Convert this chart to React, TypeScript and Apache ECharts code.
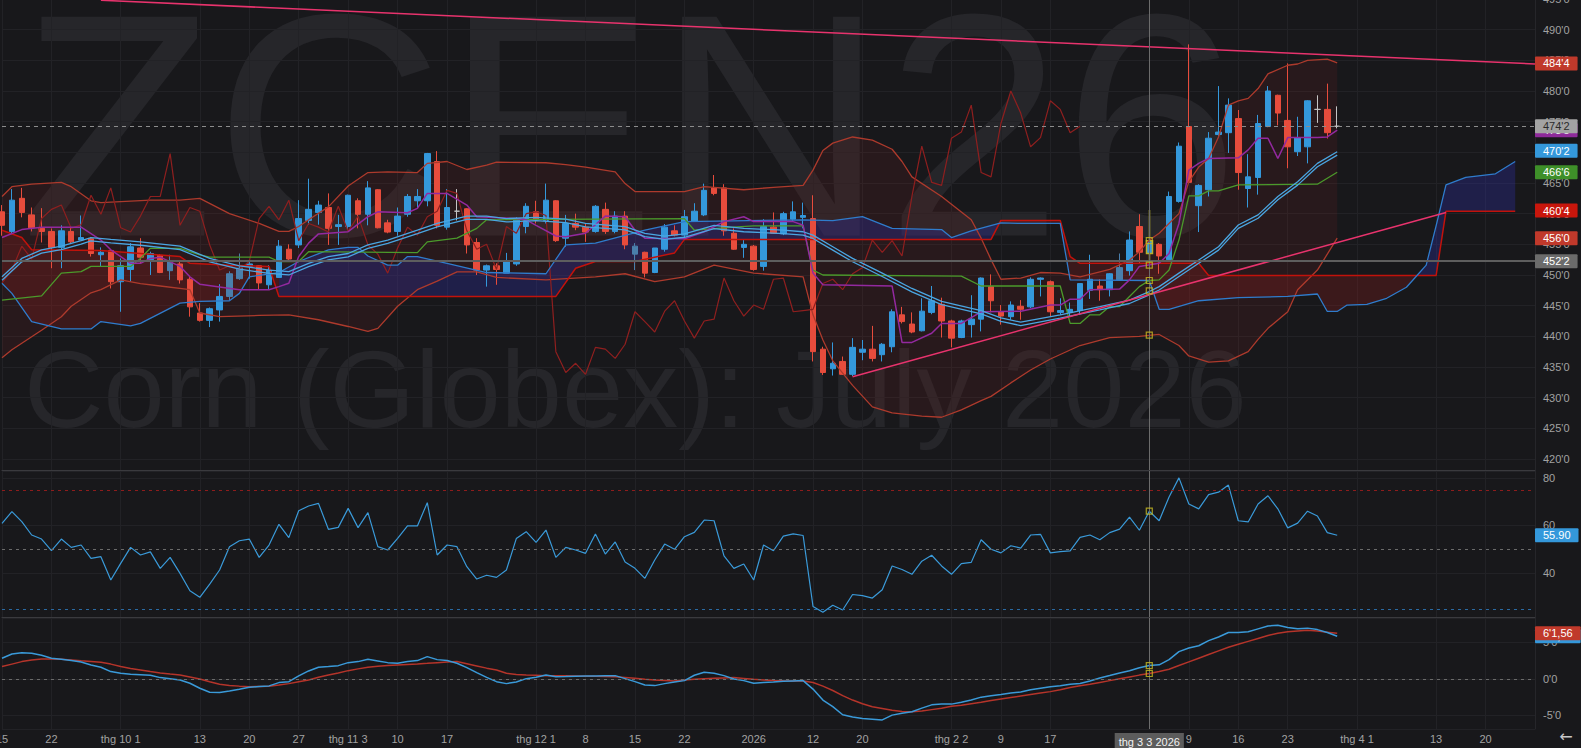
import React, { useEffect, useRef } from 'react';
import * as echarts from 'echarts';

// ---------- calendar ----------
const HOLIDAYS = ['2025-11-27', '2025-12-25', '2026-01-01', '2026-01-19', '2026-02-16'];
function buildDates(): string[] {
  const out: string[] = [];
  const d = new Date(Date.UTC(2025, 8, 15));
  const end = Date.UTC(2026, 3, 27);
  while (d.getTime() <= end) {
    const wd = d.getUTCDay();
    const s = d.toISOString().slice(0, 10);
    if (wd !== 0 && wd !== 6 && HOLIDAYS.indexOf(s) < 0) out.push(s);
    d.setUTCDate(d.getUTCDate() + 1);
  }
  return out;
}
const dates = buildDates();

const xLabelDates = ['2025-09-15', '2025-09-22', '2025-10-01', '2025-10-13', '2025-10-20', '2025-10-27', '2025-11-03', '2025-11-10', '2025-11-17', '2025-12-01', '2025-12-08', '2025-12-15', '2025-12-22', '2026-01-02', '2026-01-12', '2026-01-20', '2026-02-02', '2026-02-09', '2026-02-17', '2026-03-03', '2026-03-09', '2026-03-16', '2026-03-23', '2026-04-01', '2026-04-13', '2026-04-20'];
const xLabelTexts = ['15', '22', 'thg 10 1', '13', '20', '27', 'thg 11 3', '10', '17', 'thg 12 1', '8', '15', '22', '2026', '12', '20', 'thg 2 2', '9', '17', 'thg 3 3 2026', '9', '16', '23', 'thg 4 1', '13', '20'];
const CROSS_DATE = '2026-03-03';

// ---------- candles ----------
const opens = [460.3,457.1,462.5,459.8,457.6,457.1,454.5,457.1,455.7,455.9, 453.3,454.0,448.9,450.9,454.4,452.5,453.2,450.7,451.8,449.3, 443.8,442.6,444.3,446.5,449.4,451.4,451.5,448.4,449.6,454.2, 454.9,458.9,460.2,461.0,457.9,457.9,462.1,459.9,463.9,458.5, 457.1,459.9,462.1,462.1,468.5,457.8,460.4,460.8,455.3,450.8, 451.5,450.3,451.8,457.9,460.3,458.9,462.1,456.0,458.4,457.8, 457.1,460.7,457.1,459.6,454.7,453.7,450.4,454.2,457.2,456.5, 458.8,459.8,464.2,464.2,456.8,454.5,454.7,451.4,457.8,456.7, 459.1,459.4,459.2,437.9,434.7,435.9,433.8,437.4,437.9,437.0, 438.3,443.5,442.0,440.9,443.9,445.2,442.5,439.8,441.9,442.8, 448.1,444.0,443.2,444.9,444.8,449.3,448.9,443.9,443.9,444.2, 447.5,448.2,447.6,449.2,450.7,457.9,453.5,455.0,452.5,462.0, 474.2,461.3,463.9,472.9,473.2,475.5,464.1,465.9,474.2,479.3, 475.2,470.1,470.9,477.0,477.0,474.25];
const closes = [458.1,462.2,460.2,457.7,457.1,454.5,457.2,455.4,456.1,453.5, 453.7,448.9,451.5,454.6,452.9,453.5,450.4,452.2,449.2,444.8, 442.6,444.5,446.5,450.2,451.1,451.8,448.7,450.8,454.7,452.6, 459.2,460.7,461.4,457.6,458.2,463.0,459.9,464.2,457.7,457.0, 459.6,462.8,462.8,469.8,458.1,461.0,460.4,454.9,450.8,451.5, 450.9,452.2,459.2,461.2,459.0,462.2,455.6,458.4,457.8,457.0, 461.2,457.1,459.6,454.9,453.4,450.3,454.4,457.8,456.5,459.5, 460.4,463.8,463.3,457.2,454.2,455.0,450.9,457.9,456.8,460.0, 460.3,459.7,437.5,434.1,435.6,433.8,438.2,437.9,436.4,438.7, 444.0,442.4,440.7,444.1,445.8,442.5,439.7,442.5,442.8,449.5, 445.8,443.3,445.1,444.4,449.3,449.5,444.0,444.2,444.4,448.6, 449.3,447.6,450.2,451.2,455.7,453.7,455.6,453.1,462.8,471.0, 465.1,464.6,472.3,473.3,477.7,466.7,466.0,474.7,480.0,476.4, 470.9,472.4,478.4,477.0,473.2,474.25];
const lows = [456.4,456.8,459.4,457.1,455.3,451.1,451.1,455.2,455.7,453.0, 451.4,447.8,444.0,448.9,451.9,450.0,450.3,449.2,448.6,443.2, 442.4,441.5,442.4,445.9,449.2,449.4,447.6,447.6,449.5,452.2, 454.4,458.2,458.2,454.9,454.9,457.3,457.6,458.1,457.6,456.8, 456.4,459.5,460.9,461.2,457.6,457.4,458.9,453.5,450.0,448.1, 448.4,450.3,451.5,456.8,458.4,458.4,455.4,454.6,457.3,455.4, 456.9,456.7,456.8,454.2,450.8,449.6,450.3,453.8,456.3,455.7, 458.7,459.6,463.0,456.4,454.1,452.8,450.7,450.7,456.7,456.5, 458.8,457.6,435.9,433.7,433.6,433.7,433.5,436.1,435.9,435.9, 437.4,442.1,440.5,440.8,443.6,439.8,438.2,439.7,439.8,440.8, 443.9,441.9,442.7,442.7,444.6,446.5,443.2,443.5,443.3,443.5, 446.1,445.8,446.5,449.1,449.9,451.9,451.9,450.2,452.4,461.8, 464.9,457.0,462.8,472.6,469.9,463.9,461.0,463.1,474.1,474.4, 467.4,469.4,468.2,474.8,472.25,473.9];
const highs = [461.4,464.0,464.2,461.0,460.9,457.6,458.1,457.9,459.7,456.2, 454.5,454.1,452.7,455.2,456.0,453.8,453.4,453.3,452.2,449.7, 445.4,444.7,448.5,450.6,453.5,452.2,451.6,451.6,455.7,455.0, 462.2,465.7,462.1,463.3,459.8,463.1,462.5,465.3,464.0,459.0, 461.0,463.2,464.0,469.9,470.2,464.0,464.0,460.9,456.0,451.7, 451.9,453.6,459.4,461.7,462.1,464.9,462.2,459.8,460.0,458.4, 461.4,461.8,460.4,460.4,455.2,453.8,454.4,458.3,458.1,460.6, 461.7,464.9,466.3,464.8,457.6,455.7,454.9,459.1,460.2,460.3, 462.0,461.8,463.0,438.3,439.0,436.7,439.7,439.4,441.7,438.9, 444.4,444.8,443.9,446.2,448.2,446.3,442.7,442.7,446.7,449.6, 450.1,445.1,445.7,445.9,449.6,449.6,449.1,446.2,445.5,448.6, 453.3,449.3,450.3,453.5,457.1,459.9,460.6,455.2,463.6,471.6, 487.6,464.8,473.3,480.8,478.8,476.9,469.7,476.1,480.8,479.4, 484.5,475.8,478.5,479.3,481.2,477.5];
const mutedCandles = [17, 23, 24, 64, 113];
const CROSS_INDEX = 116;

// ---------- overlays: [categoryIndex, value] ----------
const bbUpper = [[0,462.8],[1,464.4],[3,464.8],[6,465.1],[7,464.4],[9,462.1],[10,461.8],[15,462.2],[18,462.2],[20,462.5],[23,460.0],[26,458.4],[28,457.1],[29,457.1],[30,457.9],[31,459.0],[33,461.1],[35,464.5],[37,466.7],[39,466.8],[42,466.7],[43,468.2],[45,468.5],[47,467.2],[49,467.9],[50,468.4],[55,468.3],[57,468.0],[59,467.6],[62,466.8],[63,464.9],[64,463.6],[69,463.6],[71,464.4],[75,463.9],[78,464.3],[81,464.6],[82,467.1],[83,470.3],[84,471.5],[86,472.5],[88,472.0],[90,470.5],[91,468.5],[92,466.0],[95,462.8],[98,459.0],[99,456.0],[100,452.5],[101,449.3],[103,449.5],[105,450.4],[107,450.3],[109,449.7],[112,450.9],[114,452.4],[115,453.8],[116,455.7],[117,456.8],[119,460.0],[120,465.2],[121,467.6],[122,469.0],[123,472.5],[124,477.7],[125,478.4],[126,478.8],[127,480.4],[128,482.8],[130,484.2],[131,484.4],[132,485.0],[134,485.2],[135,484.6]];
const bbLower = [[0,436.5],[1,437.8],[4,441.0],[6,443.2],[7,444.9],[9,447.1],[10,447.6],[12,449.2],[14,448.6],[16,448.2],[19,447.6],[20,443.8],[22,443.2],[26,443.4],[29,443.5],[32,442.7],[35,441.6],[37,440.8],[38,441.3],[40,444.9],[42,447.6],[44,449.0],[46,450.5],[48,450.5],[50,449.6],[55,449.2],[60,449.7],[63,450.2],[66,448.9],[69,449.7],[72,451.6],[76,450.3],[81,449.7],[82,443.5],[83,439.4],[84,436.0],[86,432.0],[88,428.5],[90,427.5],[93,427.0],[95,426.8],[97,428.0],[99,429.5],[100,430.2],[102,432.4],[104,434.5],[106,436.3],[109,438.5],[112,439.8],[115,440.0],[117,440.3],[119,438.5],[120,436.8],[122,435.8],[124,436.0],[126,437.5],[127,439.5],[128,441.3],[130,444.0],[131,447.6],[133,450.8],[135,456.0]];
const spanA = [[0,448.65],[1,447.0],[3,442.4],[6,441.2],[9,441.2],[10,442.4],[13,441.7],[14,442.1],[18,445.4],[20,445.7],[23,445.8],[24,447.0],[25,449.7],[28,450.4],[30,452.2],[33,454.1],[35,454.5],[36,454.5],[37,453.1],[39,451.6],[40,451.6],[41,453.0],[42,453.0],[45,451.9],[49,450.4],[55,450.2],[57,454.9],[60,455.2],[65,457.3],[69,458.7],[81,459.0],[84,458.85],[87,459.5],[90,457.6],[95,457.4],[96,456.1],[98,457.2],[101,458.5],[103,458.4],[107,458.4],[108,449.2],[116,449.1],[117,444.4],[118,444.4],[121,445.8],[125,446.3],[130,446.5],[133,446.9],[134,444.05],[135,444.05],[136,445.1],[138,445.2],[140,446.2],[142,448.0],[143,449.8],[144,451.6],[145,458.0],[146,464.7],[148,465.9],[151,466.5],[153,468.5]];
const spanB = [[0,457.3],[2,456.1],[3,454.1],[10,454.0],[18,453.0],[19,451.9],[23,451.6],[27,451.4],[28,446.5],[56,446.5],[58,451.1],[60,452.2],[64,452.2],[68,453.6],[69,455.8],[100,455.8],[101,458.9],[107,458.9],[108,453.0],[109,451.9],[121,451.9],[122,449.9],[143,449.9],[145,449.9],[146,460.4],[153,460.4]];
const tenkan = [[0,456.1],[2,457.4],[4,457.8],[8,457.8],[10,455.7],[11,454.1],[13,451.9],[14,451.9],[15,452.7],[16,452.9],[18,451.4],[19,449.7],[20,448.5],[24,447.6],[27,447.6],[28,448.1],[29,448.65],[30,453.0],[31,455.2],[32,456.7],[35,457.06],[37,459.5],[38,460.3],[41,460.15],[42,460.86],[43,463.3],[45,463.3],[47,461.4],[48,459.5],[52,459.2],[53,459.0],[54,458.1],[56,456.35],[57,456.25],[59,456.8],[61,459.6],[63,459.5],[64,457.3],[65,456.0],[69,455.9],[71,457.05],[73,458.7],[75,459.5],[76,458.7],[80,458.7],[81,458.1],[82,450.3],[83,448.4],[90,448.2],[91,439.0],[92,439.0],[94,440.5],[95,442.1],[97,442.1],[99,444.0],[103,444.1],[106,445.1],[107,445.1],[108,446.05],[109,446.05],[110,447.6],[113,447.7],[114,449.2],[115,451.4],[117,451.9],[118,453.5],[119,458.4],[120,467.1],[121,468.2],[122,469.0],[125,469.1],[126,470.4],[127,472.3],[128,472.3],[129,469.0],[130,472.4],[133,472.4],[134,472.5],[135,473.6]];
const kijun = [[0,445.9],[4,446.6],[6,450.3],[8,450.55],[9,451.4],[13,451.4],[14,452.7],[15,454.35],[18,454.35],[20,453.26],[21,452.9],[27,452.9],[28,452.2],[30,452.2],[31,453.8],[42,453.65],[43,455.4],[46,456.0],[48,457.6],[49,459.0],[69,459.2],[70,457.3],[74,457.8],[76,458.0],[81,458.0],[82,450.8],[83,450.0],[97,449.8],[99,448.2],[107,448.2],[108,442.1],[109,442.1],[110,443.5],[111,443.5],[112,444.85],[113,444.85],[114,446.5],[115,448.1],[116,449.1],[117,449.2],[118,450.8],[119,455.7],[120,462.9],[121,462.9],[122,463.7],[123,463.7],[125,464.7],[133,464.8],[135,466.75]];
const maLine = [[0,449.7],[2,452.7],[4,454.1],[6,454.7],[8,455.6],[9,456.1],[11,455.8],[14,455.4],[18,454.7],[21,452.7],[24,451.5],[27,450.8],[29,450.55],[31,451.9],[33,453.0],[35,453.5],[37,454.9],[39,455.7],[42,457.3],[44,458.4],[47,459.6],[49,459.6],[51,459.2],[54,459.4],[57,459.1],[59,458.4],[63,457.9],[65,456.8],[67,456.35],[69,456.7],[72,458.1],[75,457.6],[79,457.3],[81,457.05],[82,456.5],[84,454.6],[86,452.7],[89,450.3],[92,447.8],[95,445.7],[99,444.2],[101,443.0],[103,442.3],[107,443.5],[111,444.85],[114,445.9],[116,447.3],[117,448.1],[119,450.3],[121,452.45],[123,454.6],[125,458.15],[127,459.8],[129,462.8],[131,465.2],[133,468.2],[135,470.1]];
const trendDown = [[10,494.8],[155,484.4]];
const trendUp = [[86,433.4],[146,460.2]];
// crosshair markers read at 3 Mar 2026
const crossPriceMarks = [455.6, 451.6, 449.1, 447.4, 440.2];
const crossRsiMarks = [66.0];
const crossMacdMarks = [1.8, 0.72];

// ---------- RSI / MACD ----------
const rsi = [60.9,65.8,61.6,56.0,54.3,49.4,54.3,50.8,51.8,46.2, 46.9,37.1,44.1,50.8,47.6,48.9,42.0,46.6,39.9,32.6, 29.8,35.4,41.3,51.1,53.6,54.3,46.6,51.8,60.5,54.9, 66.2,68.2,69.3,58.4,59.2,67.2,59.1,65.4,51.1,49.7, 54.6,59.8,59.8,69.6,47.6,51.8,51.1,42.7,37.5,39.1, 38.2,41.3,54.5,57.4,52.9,58.1,46.6,50.8,49.7,48.3, 56.4,48.0,53.1,44.7,42.0,37.8,45.5,52.2,50.0,55.3, 57.1,62.3,62.0,47.2,42.0,43.8,37.1,51.8,49.4,55.5, 56.5,55.8,26.0,23.5,26.5,24.5,31.0,30.5,29.5,33.0, 43.0,41.5,39.5,45.0,47.5,43.0,39.5,44.0,44.5,54.0, 50.0,48.5,51.5,50.5,56.0,56.3,48.5,49.0,49.3,55.0, 56.0,54.0,57.0,58.5,63.5,58.0,66.0,62.0,72.0,80.0, 69.0,67.0,73.0,74.0,77.0,62.0,61.5,69.0,72.5,67.0, 59.0,61.0,66.0,64.0,57.0,55.9];
const macd = [2.79,3.38,3.56,3.47,3.2,2.79,2.66,2.48,2.29,1.88, 1.57,0.98,0.75,0.61,0.55,0.48,0.16,0.0,-0.16,-0.61, -1.29,-1.84,-1.88,-1.66,-1.43,-1.16,-1.05,-0.97,-0.52,-0.39, 0.39,1.07,1.57,1.66,1.79,2.2,2.34,2.66,2.43,2.2, 2.11,2.34,2.48,3.02,2.61,2.48,2.11,1.52,0.84,0.2, -0.39,-0.66,-0.43,0.02,0.2,0.52,0.29,0.3,0.35,0.37, 0.39,0.41,0.43,0.02,-0.39,-0.84,-0.93,-0.66,-0.45,-0.25, 0.48,0.89,0.75,0.43,-0.02,-0.25,-0.61,-0.5,-0.43,-0.35, -0.3,-0.25,-1.4,-2.9,-3.8,-4.9,-5.2,-5.4,-5.5,-5.6, -4.95,-4.7,-4.5,-4.0,-3.55,-3.45,-3.45,-3.2,-2.9,-2.5, -2.3,-2.15,-1.95,-1.8,-1.5,-1.3,-1.1,-0.95,-0.75,-0.65, -0.3,0.1,0.44,0.8,1.1,1.5,1.8,1.9,2.6,3.7, 4.2,4.5,5.2,5.7,6.3,6.3,6.4,6.8,7.2,7.3, 7.0,6.8,6.9,6.7,6.3,5.8];
const signal = [1.66,2.0,2.34,2.55,2.7,2.7,2.65,2.57,2.45,2.35, 2.25,2.0,1.66,1.4,1.2,0.98,0.8,0.65,0.52,0.25, -0.02,-0.4,-0.75,-0.9,-1.0,-1.07,-1.05,-1.02,-0.85,-0.66, -0.4,-0.16,0.2,0.52,0.8,1.11,1.35,1.57,1.7,1.8, 1.88,1.95,2.02,2.1,2.2,2.27,2.34,2.05,1.75,1.45, 1.2,0.75,0.6,0.52,0.48,0.43,0.41,0.4,0.39,0.36, 0.33,0.31,0.29,0.18,0.07,-0.05,-0.16,-0.22,-0.29,-0.18, -0.07,0.0,0.07,0.12,0.16,0.05,-0.07,-0.15,-0.25,-0.28, -0.3,-0.3,-0.5,-1.0,-1.6,-2.3,-2.9,-3.4,-3.8,-4.05, -4.3,-4.45,-4.5,-4.4,-4.2,-4.0,-3.75,-3.6,-3.4,-3.2, -2.95,-2.75,-2.55,-2.35,-2.15,-1.95,-1.75,-1.5,-1.2,-0.95, -0.75,-0.5,-0.25,0.0,0.25,0.5,0.72,1.0,1.3,1.8, 2.3,2.8,3.3,3.8,4.3,4.7,5.1,5.5,5.9,6.2, 6.4,6.5,6.6,6.5,6.35,6.2];

// ---------- right-edge tags ----------
const priceTags = [
  { value: 484.5, text: "484'4", bg: '#c0392b', fg: '#ffffff' },
  { value: 473.6, text: "473'5", bg: '#8e2a9a', fg: '#ffffff' },
  { value: 474.25, text: "474'2", bg: '#a3a3a3', fg: '#2b2b2b' },
  { value: 470.25, text: "470'2", bg: '#3498db', fg: '#ffffff' },
  { value: 466.75, text: "466'6", bg: '#3e8f29', fg: '#ffffff' },
  { value: 460.5, text: "460'4", bg: '#c8160c', fg: '#ffffff' },
  { value: 456.0, text: "456'0", bg: '#c0392b', fg: '#ffffff' },
  { value: 452.25, text: "452'2", bg: '#6b6b6b', fg: '#ffffff' },
];
const CURRENT_PRICE = 474.25;
const HLINE_PRICE = 452.25;
const rsiLevels = [75, 50, 25];
const rsiTag = { value: 55.9, text: '55.90' };
const macdTags = [
  { value: 5.8, text: "5'6,40", bg: '#3498db' },
  { value: 6.2, text: "6'1,56", bg: '#c0392b' },
];

const BG = '#18181b';
const GRID = '#222226';
const LABEL = '#a2a2a2';
const FONT = "'Liberation Sans Narrow', 'Liberation Sans', Arial, sans-serif";
const UP = '#3498db';
const DOWN = '#e74c3c';
const MARK = '#c9bd22';
const HIDDEN_LINE = { color: 'rgba(0,0,0,0)', width: 0, opacity: 1 };

const fmtPrice = (v: number) => {
  const w = Math.floor(v + 1e-9);
  const e = Math.round((v - w) * 8);
  return `${w}'${e}`;
};

export default function App() {
  const ref = useRef<HTMLDivElement>(null);
  useEffect(() => {
    document.body.style.margin = '0';
    document.body.style.background = BG;
    if (!ref.current) return;
    const chart = echarts.init(ref.current, undefined, { renderer: 'svg' });

    const labelMap: Record<string, string> = {};
    xLabelDates.forEach((d, i) => { labelMap[d] = xLabelTexts[i]; });
    const isLabeled = (_i: number, v: string) => labelMap[v] !== undefined;

    const candleData = opens.map((o, i) => {
      const val = [o, closes[i], lows[i], highs[i]];
      if (i === CROSS_INDEX) {
        return { value: val, itemStyle: { color: UP, color0: DOWN, borderColor: '#b9b12a', borderColor0: '#b9b12a', borderWidth: 1.5 } };
      }
      if (mutedCandles.indexOf(i) >= 0) {
        return { value: val, itemStyle: { color: '#4a7fab', color0: '#b0464a', borderColor: '#4a7fab', borderColor0: '#b0464a' } };
      }
      return val;
    });
    const chikou = closes.slice(26).map((c, i) => [i, c]);

    const polyFill = (segs: { top: number[][]; bottom: number[][]; from: number; to: number; color: string }[]) =>
      (_params: any, api: any) => ({
        type: 'group',
        children: segs.map((s) => {
          const up = s.top.filter((p) => p[0] >= s.from && p[0] <= s.to).map((p) => api.coord(p));
          const lo = s.bottom.filter((p) => p[0] >= s.from && p[0] <= s.to).map((p) => api.coord(p)).reverse();
          return { type: 'polygon', shape: { points: up.concat(lo) }, style: { fill: s.color } };
        }),
      });

    const RED_FILL = 'rgba(150,28,28,0.28)';
    const NAVY_FILL = 'rgba(45,45,150,0.38)';

    const line = (data: any, color: string, width = 1.3, extra: any = {}) => ({
      type: 'line', xAxisIndex: 0, yAxisIndex: 0, data, symbol: 'none', showSymbol: false, silent: true,
      lineStyle: { color, width }, z: 4, clip: true, ...extra,
    });

    const marks = (xi: number, yi: number, vals: number[]) => ({
      type: 'scatter', xAxisIndex: xi, yAxisIndex: yi, z: 7, silent: true, symbol: 'rect', symbolSize: 6,
      itemStyle: { color: 'rgba(0,0,0,0)', borderColor: MARK, borderWidth: 1.2 },
      data: vals.map((v) => [CROSS_INDEX, v]),
    });

    const tagLabel = (text: string, bg: string, fg: string) => ({
      show: true, position: 'end', formatter: text, backgroundColor: bg, color: fg, opacity: 1,
      padding: [2, 8, 1, 8], fontSize: 11, distance: 0, fontFamily: FONT, borderRadius: 1,
    });

    const crossLine = { xAxis: CROSS_DATE, lineStyle: { color: '#6c6c6c', width: 1, type: 'solid' }, label: { show: false } };

    const option: any = {
      animation: false,
      backgroundColor: BG,
      textStyle: { fontFamily: FONT },
      graphic: [
        { type: 'text', x: 20, y: 125, z: 0, silent: true, style: { text: 'ZCEN26', font: "318px 'Liberation Sans', Arial, sans-serif", fill: '#26262a', textVerticalAlign: 'middle', verticalAlign: 'middle' } },
        { type: 'text', x: 24, y: 388, z: 0, silent: true, style: { text: 'Corn (Globex): July 2026', font: "110px 'Liberation Sans', Arial, sans-serif", fill: '#26262a', textVerticalAlign: 'middle', verticalAlign: 'middle' } },
        { type: 'text', x: 1566, y: 736, z: 10, silent: true, style: { text: '\u2190', font: "16px 'DejaVu Sans', sans-serif", fill: '#c8c8c8', textAlign: 'center', align: 'center', textVerticalAlign: 'middle', verticalAlign: 'middle' } },
      ],
      grid: [
        { left: 2, right: 46, top: -1, height: 471, outerBoundsMode: 'none' },
        { left: 2, right: 46, top: 471, height: 146, outerBoundsMode: 'none' },
        { left: 2, right: 46, top: 618, height: 111, outerBoundsMode: 'none' },
      ],
      xAxis: [0, 1, 2].map((g) => ({
        type: 'category', gridIndex: g, data: dates, boundaryGap: false,
        axisLine: { show: true, lineStyle: { color: g === 2 ? '#262629' : '#3a3a3e', width: 1 } },
        axisTick: { show: false },
        axisPointer: { show: false },
        axisLabel: g === 2 ? {
          show: true, interval: isLabeled, color: LABEL, fontSize: 11, margin: 4, fontFamily: FONT,
          formatter: (v: string) => (v === CROSS_DATE ? `{hl|${labelMap[v]}}` : (labelMap[v] || '')),
          rich: { hl: { backgroundColor: '#5c5c5c', color: '#f2f2f2', padding: [3, 4, 3, 4], fontSize: 11, fontFamily: FONT } },
        } : { show: false },
        splitLine: { show: true, interval: isLabeled, lineStyle: { color: GRID, width: 1 } },
      })),
      yAxis: [
        {
          type: 'value', gridIndex: 0, position: 'right', min: 418.2, max: 495, splitNumber: 15, minInterval: 5, maxInterval: 5,
          axisLine: { show: true, lineStyle: { color: '#26262a' } }, axisTick: { show: false },
          axisLabel: { color: LABEL, fontSize: 11, margin: 8, showMinLabel: false, formatter: fmtPrice, fontFamily: FONT },
          splitLine: { show: true, lineStyle: { color: GRID } },
        },
        { type: 'value', gridIndex: 0, position: 'right', min: 418.75, max: 495.55, show: false },
        {
          type: 'value', gridIndex: 1, position: 'right', min: 21.55, max: 82.9, splitNumber: 3, minInterval: 20, maxInterval: 20,
          axisLine: { show: true, lineStyle: { color: '#26262a' } }, axisTick: { show: false },
          axisLabel: { color: LABEL, fontSize: 11, margin: 8, showMinLabel: false, showMaxLabel: false, fontFamily: FONT },
          splitLine: { show: true, lineStyle: { color: GRID } },
        },
        {
          type: 'value', gridIndex: 2, position: 'right', min: -6.84, max: 8.28, splitNumber: 3, minInterval: 5, maxInterval: 5,
          axisLine: { show: true, lineStyle: { color: '#26262a' } }, axisTick: { show: false },
          axisLabel: { color: LABEL, fontSize: 11, margin: 8, showMinLabel: false, showMaxLabel: false, formatter: fmtPrice, fontFamily: FONT },
          splitLine: { show: true, lineStyle: { color: GRID } },
        },
      ],
      series: [
        {
          type: 'custom', xAxisIndex: 0, yAxisIndex: 0, z: 1, silent: true, clip: true, data: [[0, 450]],
          renderItem: polyFill([{ top: bbUpper, bottom: bbLower, from: 0, to: 135, color: 'rgba(125,35,35,0.17)' }]),
        },
        {
          type: 'custom', xAxisIndex: 0, yAxisIndex: 0, z: 1, silent: true, clip: true, data: [[0, 450]],
          renderItem: polyFill([
            { top: spanA, bottom: spanB, from: 0, to: 28, color: RED_FILL },
            { top: spanA, bottom: spanB, from: 28, to: 101, color: NAVY_FILL },
            { top: spanA, bottom: spanB, from: 101, to: 143, color: RED_FILL },
            { top: spanA, bottom: spanB, from: 143, to: 153, color: NAVY_FILL },
          ]),
        },
        line(bbUpper, '#ad3a2c', 1.3),
        line(bbLower, '#ad3a2c', 1.3),
        line(chikou, '#8f1f1f', 1.2),
        line(spanB, '#c2120b', 1.5),
        line(spanA, '#2f7ccc', 1.3),
        {
          type: 'candlestick', xAxisIndex: 0, yAxisIndex: 0, z: 3, silent: true, barWidth: 6, clip: true,
          itemStyle: { color: UP, color0: DOWN, borderColor: UP, borderColor0: DOWN, borderColorDoji: '#c4c4c4', borderWidth: 1 },
          data: candleData,
        },
        line(kijun, '#4b9a2b', 1.3),
        line(tenkan, '#93299f', 1.5),
        line(maLine, '#4aa6e2', 1.3),
        line(maLine, '#4aa6e2', 1.3, { yAxisIndex: 1 }),
        line(trendDown, '#e8336d', 1.5),
        line(trendUp, '#e8336d', 1.5),
        marks(0, 0, crossPriceMarks),
        {
          type: 'line', xAxisIndex: 0, yAxisIndex: 0, data: [], z: 6, clip: false, silent: true,
          markLine: {
            silent: true, symbol: ['none', 'none'], animation: false,
            data: [
              { yAxis: HLINE_PRICE, lineStyle: { color: '#5e5e5e', width: 2, type: 'solid' }, label: { show: false } },
              { yAxis: CURRENT_PRICE, lineStyle: { color: '#8c8c8c', width: 1, type: [4, 4] }, label: { show: false } },
              crossLine,
              ...priceTags.map((t) => ({ yAxis: t.value, lineStyle: HIDDEN_LINE, label: tagLabel(t.text, t.bg, t.fg) })),
            ],
          },
        },
        {
          type: 'line', xAxisIndex: 1, yAxisIndex: 2, data: rsi, symbol: 'none', showSymbol: false, silent: true, z: 4,
          lineStyle: { color: '#3a9ad9', width: 1.2 },
        },
        marks(1, 2, crossRsiMarks),
        {
          type: 'line', xAxisIndex: 1, yAxisIndex: 2, data: [], z: 6, clip: false, silent: true,
          markLine: {
            silent: true, symbol: ['none', 'none'], animation: false,
            data: [
              { yAxis: rsiLevels[0], lineStyle: { color: '#8e1c1c', width: 1, type: [3, 4] }, label: { show: false } },
              { yAxis: rsiLevels[1], lineStyle: { color: '#6a6a6a', width: 1, type: [3, 4] }, label: { show: false } },
              { yAxis: rsiLevels[2], lineStyle: { color: '#2a6aa3', width: 1, type: [3, 4] }, label: { show: false } },
              crossLine,
              { yAxis: rsiTag.value, lineStyle: HIDDEN_LINE, label: tagLabel(rsiTag.text, '#3498db', '#ffffff') },
            ],
          },
        },
        {
          type: 'line', xAxisIndex: 2, yAxisIndex: 3, data: signal, symbol: 'none', showSymbol: false, silent: true, z: 4,
          lineStyle: { color: '#b5342a', width: 1.5 },
        },
        {
          type: 'line', xAxisIndex: 2, yAxisIndex: 3, data: macd, symbol: 'none', showSymbol: false, silent: true, z: 4,
          lineStyle: { color: '#3a9ad9', width: 1.5 },
        },
        marks(2, 3, crossMacdMarks),
        {
          type: 'line', xAxisIndex: 2, yAxisIndex: 3, data: [], z: 6, clip: false, silent: true,
          markLine: {
            silent: true, symbol: ['none', 'none'], animation: false,
            data: [
              { yAxis: 0, lineStyle: { color: '#6a6a6a', width: 1, type: [3, 4] }, label: { show: false } },
              crossLine,
              ...macdTags.map((t) => ({ yAxis: t.value, lineStyle: HIDDEN_LINE, label: tagLabel(t.text, t.bg, '#ffffff') })),
            ],
          },
        },
      ],
    };
    chart.setOption(option);
    return () => chart.dispose();
  }, []);
  return <div ref={ref} style={{ width: 1581, height: 748 }} />;
}
